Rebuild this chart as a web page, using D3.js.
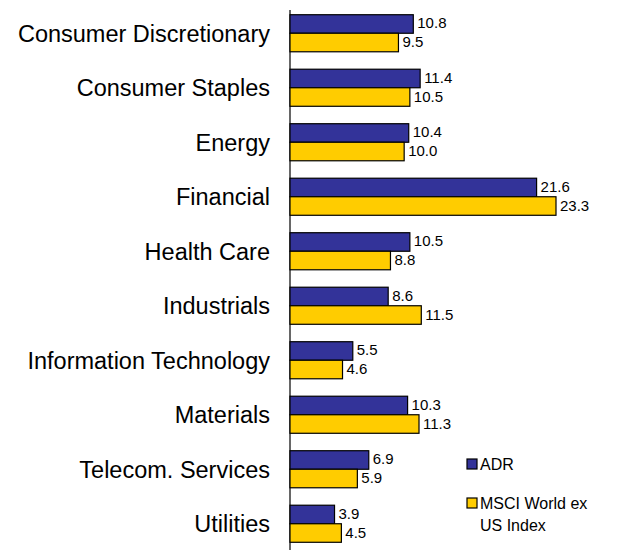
<!DOCTYPE html>
<html>
<head>
<meta charset="utf-8">
<script src="https://cdn.jsdelivr.net/npm/d3@7"></script>
<style>
body { margin: 0; background: #fff; }
text { font-family: "Liberation Sans", Arial, sans-serif; fill: #000; }
</style>
</head>
<body>
<script>
const w = 618;
const h = 550;

const sectors = ["Consumer Discretionary", "Consumer Staples", "Energy", "Financial", "Health Care",
    "Industrials", "Information Technology", "Materials", "Telecom. Services", "Utilities"];
const adr = [10.8, 11.4, 10.4, 21.6, 10.5, 8.6, 5.5, 10.3, 6.9, 3.9];
const msci = [9.5, 10.5, 10.0, 23.3, 8.8, 11.5, 4.6, 11.3, 5.9, 4.5];
const seriesNames = ["ADR", "MSCI World ex", "US Index"];
const colors = ["#333399", "#FFCC00"];

let svg = d3.select("body")
    .append("svg")
    .attr("width", w)
    .attr("height", h)

const x = d3.scaleLinear().domain([0, 23.3]).range([290, 556]);
const y = d3.scaleBand().domain(sectors).range([6, 551]).paddingInner(0.32).paddingOuter(0.16);
const sub = d3.scaleBand().domain([0, 1]).range([0, y.bandwidth()]);

// axis line
svg.append("line")
    .attr("x1", x(0)).attr("x2", x(0))
    .attr("y1", 10).attr("y2", h)
    .attr("stroke", "#000").attr("stroke-width", 1.2)

// category labels
svg.append("g").selectAll("text")
    .data(sectors)
    .join("text")
    .attr("x", 270)
    .attr("y", d => y(d) + y.bandwidth() / 2)
    .attr("dy", "0.36em")
    .attr("text-anchor", "end")
    .style("font-size", "23.5px")
    .text(d => d)

const rows = [];
sectors.forEach(function (s, i) {
    rows.push({ sector: s, k: 0, v: adr[i] });
    rows.push({ sector: s, k: 1, v: msci[i] });
});

svg.append("g").selectAll("rect")
    .data(rows)
    .join("rect")
    .attr("x", x(0))
    .attr("y", d => y(d.sector) + sub(d.k))
    .attr("width", d => x(d.v) - x(0))
    .attr("height", sub.bandwidth())
    .attr("fill", d => colors[d.k])
    .attr("stroke", "#000")
    .attr("stroke-width", 1.2)

svg.append("g").selectAll("text")
    .data(rows)
    .join("text")
    .attr("x", d => x(d.v) + 4)
    .attr("y", d => y(d.sector) + sub(d.k) + sub.bandwidth() / 2)
    .attr("dy", "0.3em")
    .style("font-size", "15px")
    .text(d => d.v.toFixed(1))

// legend
const lg = svg.append("g");
lg.append("rect").attr("x", 467).attr("y", 459).attr("width", 10).attr("height", 10)
    .attr("fill", colors[0]).attr("stroke", "#000").attr("stroke-width", 1.2)
lg.append("text").attr("x", 480).attr("y", 470).style("font-size", "16px").text(seriesNames[0])
lg.append("rect").attr("x", 467).attr("y", 498).attr("width", 10).attr("height", 10)
    .attr("fill", colors[1]).attr("stroke", "#000").attr("stroke-width", 1.2)
lg.append("text").attr("x", 480).attr("y", 509).style("font-size", "16px").text(seriesNames[1])
lg.append("text").attr("x", 480).attr("y", 531).style("font-size", "16px").text(seriesNames[2])
</script>
</body>
</html>
